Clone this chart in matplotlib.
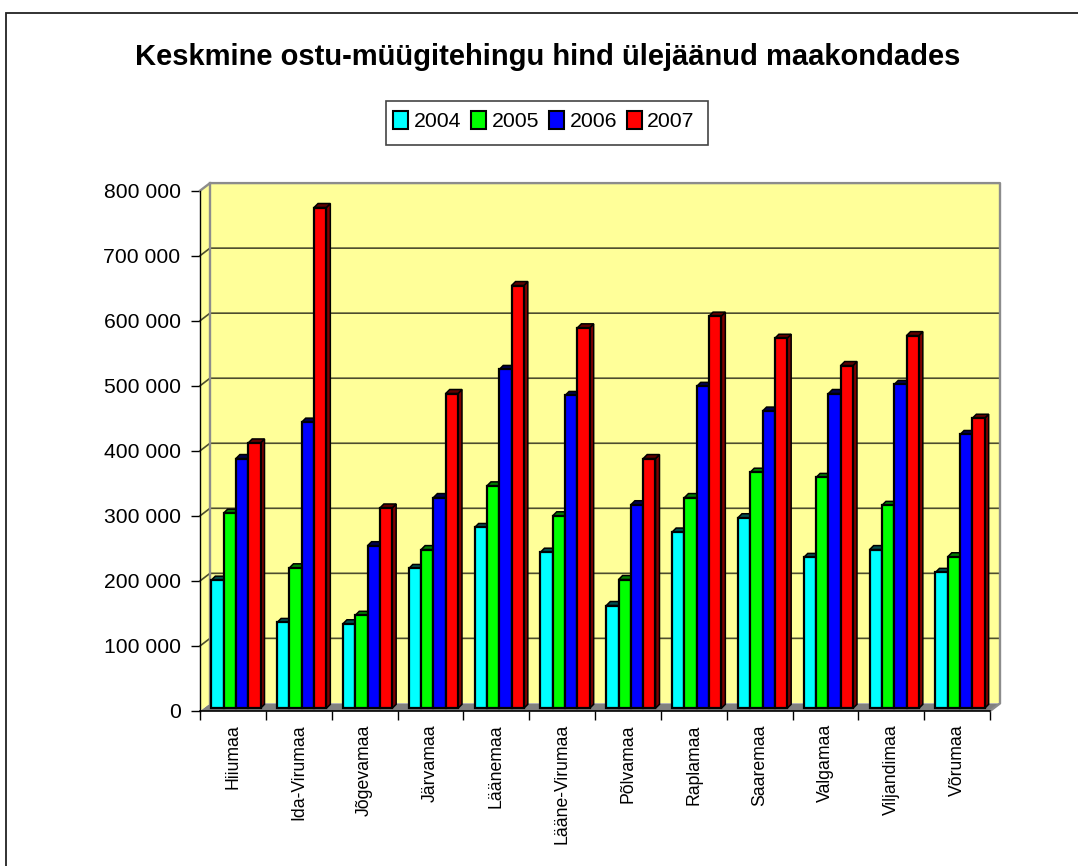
import matplotlib
matplotlib.use("Agg")
import matplotlib.pyplot as plt
from matplotlib.patches import Polygon, Rectangle
from matplotlib.lines import Line2D

plt.rcParams['font.family'] = ['Liberation Sans', 'DejaVu Sans']

categories = ["Hiiumaa", "Ida-Virumaa", "Jõgevamaa", "Järvamaa", "Läänemaa", "Lääne-Virumaa",
              "Põlvamaa", "Raplamaa", "Saaremaa", "Valgamaa", "Viljandimaa", "Võrumaa"]
years = ["2004", "2005", "2006", "2007"]
v2004 = [197000, 132000, 130000, 215000, 278000, 240000, 158000, 271000, 293000, 232000, 244000, 209000]
v2005 = [300000, 216000, 143000, 244000, 342000, 296000, 198000, 324000, 363000, 355000, 312000, 233000]
v2006 = [384000, 440000, 250000, 324000, 521000, 481000, 313000, 495000, 457000, 484000, 498000, 421000]
v2007 = [408000, 770000, 308000, 484000, 650000, 585000, 384000, 603000, 569000, 527000, 573000, 446000]
series = [v2004, v2005, v2006, v2007]
colors = ["#00FFFF", "#00FF00", "#0000FF", "#FF0000"]
dark = ["#007F7F", "#007F00", "#00007F", "#7F0000"]
top_c = ["#004F4F", "#008000", "#00004F", "#600000"]
yticks = list(range(0, 800001, 100000))
ylabels = ["0", "100 000", "200 000", "300 000", "400 000", "500 000", "600 000", "700 000", "800 000"]

W, H = 1078, 866
fig = plt.figure(figsize=(W/100, H/100), dpi=100, facecolor="white")
L, R, T, B = 200, 990, 190.7, 711
ax = fig.add_axes([L/W, 1-B/H, (R-L)/W, (B-T)/H])
ax.set_xlim(0, 12)
ax.set_ylim(0, 800000)
ax.patch.set_visible(False)
for s in ax.spines.values():
    s.set_visible(False)
px = 12/(R-L)
py = 800000/(B-T)

# page frame: top and left edges only
fig.add_artist(Line2D([5.5/W, 5.5/W, 1], [0, 1-12.5/H, 1-12.5/H], transform=fig.transFigure,
                      color="#222222", lw=1.3, solid_joinstyle="miter"))

# walls and floor
dx, dy = 10*px, 7.6*py
ax.add_patch(Polygon([(0, 0), (dx, dy), (12+dx, dy), (12, 0)], fc="#808080", ec="none", zorder=1, clip_on=False))
ax.add_patch(Polygon([(dx, dy), (dx, 800000+dy), (12+dx, 800000+dy), (12+dx, dy)], fc="#FFFF99", ec="none", zorder=1, clip_on=False))
ax.add_patch(Polygon([(0, 0), (0, 800000), (dx, 800000+dy), (dx, dy)], fc="#FFFF99", ec="none", zorder=1, clip_on=False))
for t in yticks[1:-1]:
    ax.plot([0, dx, 12+dx], [t, t+dy, t+dy], color="#4D4D2E", lw=1.2, zorder=2, clip_on=False, solid_joinstyle="miter")
ax.plot([0, dx, 12+dx, 12+dx, 12], [800000, 800000+dy, 800000+dy, dy, 0], color="#8C8C8C", lw=1.7, zorder=2, clip_on=False)
ax.plot([dx, dx], [dy, 800000+dy], color="#8C8C8C", lw=1.7, zorder=2, clip_on=False)

# bars
bw = 12.3*px
start = 11.3*px
bx, by = 4*px, 4*py
base = 2.7*py
lw_e = 1.6
for i in range(12):
    for j, vals in enumerate(series):
        v = vals[i]
        x0 = i + start + j*bw
        x1 = x0 + bw
        z = 3 + i*0.01 + j*0.001
        ax.add_patch(Polygon([(x1, base), (x1+bx, base+by), (x1+bx, base+v+by), (x1, base+v)],
                             fc=dark[j], ec="black", lw=1.1, zorder=z, clip_on=False))
        ax.add_patch(Polygon([(x0, base+v), (x0+bx, base+v+by), (x1+bx, base+v+by), (x1, base+v)],
                             fc=top_c[j], ec="black", lw=1.1, zorder=z, clip_on=False))
        ax.bar(x0, v, width=bw, bottom=base, align="edge", color=colors[j], edgecolor="black",
               linewidth=lw_e, zorder=z+0.0001, clip_on=False)

# axes
ax.set_xticks(range(13))
ax.set_xticklabels([])
ax.tick_params(axis="x", length=6.5, width=1, color="black", pad=0)
ax.set_yticks(yticks)
ax.set_yticklabels(ylabels, fontsize=15.2, color="black")
ax.tick_params(axis="y", length=6.5, width=1, color="black", pad=7.5)
ax.plot([0, 12], [0, 0], color="black", lw=1.2, zorder=6, clip_on=False)
ax.plot([0, 0], [0, 800000], color="black", lw=1.0, zorder=6, clip_on=False)
for i, c in enumerate(categories):
    ax.annotate(c, xy=(i+0.5, 0), xytext=(0, -9.5), textcoords="offset points", rotation=90,
                ha="center", va="top", fontsize=12.7, color="black", annotation_clip=False)

# title
fig.text(548/W, 1-57/H, "Keskmine ostu-müügitehingu hind ülejäänud maakondades", ha="center", va="center",
         fontsize=21, fontweight="bold", color="black")

# legend
fig.add_artist(Rectangle((385.5/W, 1-145/H), (707.5-385.5)/W, (145-101)/H, transform=fig.transFigure,
                         fc="white", ec="#444444", lw=1.2))
handles = [Rectangle((0, 0), 1, 1, fc=c, ec="black", lw=1.5) for c in colors]
leg = fig.legend(handles, years, loc="center", bbox_to_anchor=(544/W, 1-121/H), ncol=4, fontsize=15.3,
                 frameon=False, handlelength=0.7, handleheight=0.95,
                 handletextpad=0.26, columnspacing=0.47, borderpad=0, borderaxespad=0)
leg.set_zorder(5)

fig.savefig("out.png", dpi=100)
